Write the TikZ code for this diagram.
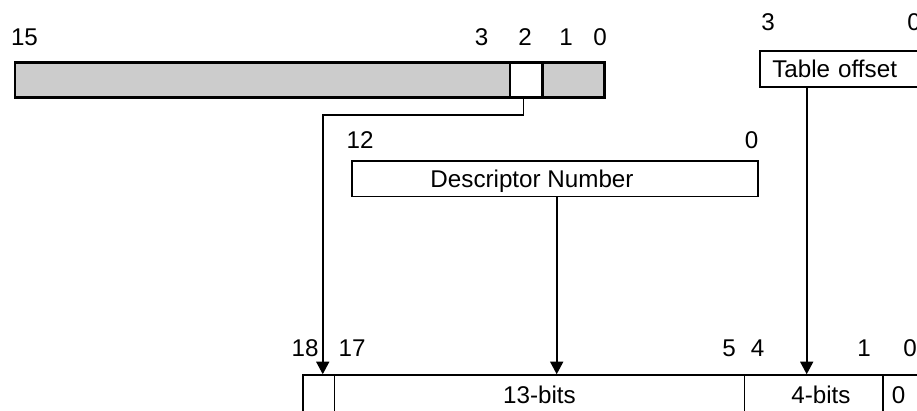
\documentclass[tikz,border=0pt]{standalone}
\usepackage{fontspec}
\setmainfont{Liberation Sans}
\usetikzlibrary{arrows.meta}
\definecolor{cellgray}{HTML}{CCCCCC}
\tikzset{
  cellbox/.style={draw=black,line width=1.6pt,inner sep=0pt,text height=17.3pt,text depth=0pt},
  topcell/.style={cellbox,line width=2.2pt,minimum height=35pt},
  lbl/.style={inner sep=0pt,text height=17.3pt,text depth=0pt},
  conn/.style={draw=black,line width=1.6pt,-{Triangle[length=12.5pt,width=13pt]}}
}
\begin{document}
\begin{tikzpicture}[x=1pt,y=-1pt,font=\fontsize{24.2pt}{29pt}\selectfont]
\useasboundingbox (0,0) rectangle (917,411);
% top register
\node[topcell,fill=cellgray,minimum width=495pt] (bA) at (262.5,80) {};
\node[topcell,fill=white,minimum width=32.5pt] (bB) at (526.25,80) {};
\node[topcell,fill=cellgray,minimum width=62pt] (bC) at (573.5,80) {};
\node[lbl] (t15) at (24.5,37) {15};
\node[lbl] (t3) at (481.7,37) {3};
\node[lbl] (t2) at (525,37) {2};
\node[lbl] (t1) at (566,37) {1};
\node[lbl] (t0) at (600,37) {0};
% descriptor number
\node[cellbox,minimum width=406pt,minimum height=35.5pt] (desc) at (555,178.75) {Descriptor Number\hspace*{46pt}};
\node[lbl] (d12) at (360,140) {12};
\node[lbl] (d0) at (751.7,140) {0};
% table offset
\node[cellbox,anchor=north west,minimum height=36pt,text width=274pt,inner xsep=12.5pt,align=left] (tab) at (759,50) {Table offset};
\node[lbl] (o3) at (768,22) {3};
\node[lbl] (o0) at (914,22) {0};
% bottom register
\node[cellbox,minimum width=31.5pt,minimum height=40pt] (c18) at (318.75,395) {};
\node[cellbox,minimum width=409.8pt,minimum height=40pt] (c13) at (539.4,395) {13-bits};
\node[cellbox,minimum width=138.2pt,minimum height=40pt] (c4) at (813.4,395) {\hspace*{15pt}4-bits};
\node[cellbox,anchor=west,minimum height=40pt,text width=100pt,inner xsep=8.5pt,align=left] (c0) at (882.5,395) {0};
\node[lbl] (b18) at (305,348) {18};
\node[lbl] (b17) at (352,348) {17};
\node[lbl] (b5) at (729,348) {5};
\node[lbl] (b4) at (757.6,348) {4};
\node[lbl] (b1) at (864,348) {1};
\node[lbl] (b0) at (910,348) {0};
% connectors
\draw[conn] ([xshift=-2.75pt]bB.south) -- ++(0,16.5) -| ([xshift=4pt]c18.north);
\draw[conn] ([xshift=1.7pt]desc.south) -- ([xshift=1.7pt]desc.south |- c13.north);
\draw[conn] ([xshift=47.7pt]tab.south west) -- ([xshift=47.7pt]tab.south west |- c4.north);
\end{tikzpicture}
\end{document}
